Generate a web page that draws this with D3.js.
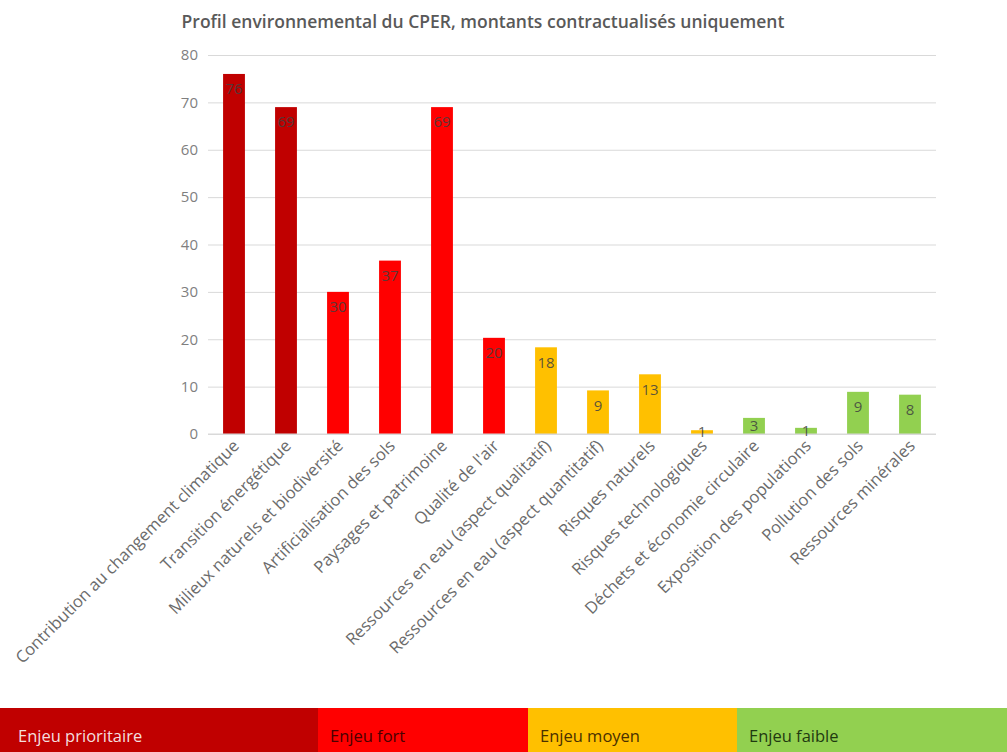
<!DOCTYPE html>
<html>
<head>
<meta charset="utf-8">
<script src="https://cdn.jsdelivr.net/npm/d3@7"></script>
<style>
  body { margin: 0; background: #fff; }
  text { font-family: "Open Sans", sans-serif; }
</style>
</head>
<body>
<script>
// data
const categories = [
  'Contribution au changement climatique',
  'Transition énergétique',
  'Milieux naturels et biodiversité',
  'Artificialisation des sols',
  'Paysages et patrimoine',
  "Qualité de l'air",
  'Ressources en eau (aspect qualitatif)',
  'Ressources en eau (aspect quantitatif)',
  'Risques naturels',
  'Risques technologiques',
  'Déchets et économie circulaire',
  'Exposition des populations',
  'Pollution des sols',
  'Ressources minérales'
];
const values = [76, 69, 30, 36.6, 69, 20.3, 18.3, 9.2, 12.6, 0.8, 3.4, 1.3, 8.9, 8.3];
const levels = ['prio', 'prio', 'fort', 'fort', 'fort', 'fort', 'moyen', 'moyen', 'moyen', 'moyen', 'faible', 'faible', 'faible', 'faible'];
const yTicks = [0, 10, 20, 30, 40, 50, 60, 70, 80];

const legendKeys = ['prio', 'fort', 'moyen', 'faible'];
const legendLabels = ['Enjeu prioritaire', 'Enjeu fort', 'Enjeu moyen', 'Enjeu faible'];
const legendWidths = [318, 210, 209, 270];

// config
const config = {
  width: 1007,
  height: 752,
  left: 208,
  right: 936,
  top: 55,
  bottom: 434,
  labelOffset: 15, // distance from bar top to label centre
};

const fill = d3.scaleOrdinal()
  .domain(legendKeys)
  .range(['#C00000', '#FF0000', '#FFC000', '#92D050']);

const legendText = d3.scaleOrdinal()
  .domain(legendKeys)
  .range(['#f4dede', '#4a0000', '#4a3000', '#1f3a10']);

let svg = d3.select('body')
  .append('svg')
  .attr('width', config.width)
  .attr('height', config.height);

let x = d3.scaleBand()
  .domain(categories)
  .range([config.left, config.right])
  .paddingInner(0.58)
  .paddingOuter(0.29);

let y = d3.scaleLinear()
  .domain([0, 80])
  .range([config.bottom, config.top]);

// title
svg.append('text')
  .attr('x', 483)
  .attr('y', 28)
  .attr('text-anchor', 'middle')
  .style('font-size', '17.5px')
  .style('font-weight', 600)
  .style('fill', '#595959')
  .text('Profil environnemental du CPER, montants contractualisés uniquement');

// grid + y axis
let yAxis = svg.append('g')
  .attr('transform', `translate(${config.left},0)`)
  .call(d3.axisLeft(y).tickValues(yTicks).tickSize(-(config.right - config.left)).tickPadding(10));
yAxis.select('.domain').remove();
yAxis.selectAll('line').attr('stroke', '#d9d9d9');
yAxis.selectAll('text')
  .style('font-size', '15px')
  .style('fill', '#7f7f7f')
  .style('font-family', '"Open Sans", sans-serif');

// bars
svg.selectAll('.bar')
  .data(values)
  .enter().append('rect')
  .attr('class', 'bar')
  .attr('x', (d, i) => x(categories[i]))
  .attr('width', x.bandwidth())
  .attr('y', (d) => y(d))
  .attr('height', (d) => y(0) - y(d))
  .attr('fill', (d, i) => fill(levels[i]));

// x axis line
svg.append('line')
  .attr('x1', config.left)
  .attr('x2', config.right)
  .attr('y1', y(0))
  .attr('y2', y(0))
  .attr('stroke', '#d9d9d9');

// value labels inside top of bars (short bars: centred on the bar)
svg.selectAll('.valueLabel')
  .data(values)
  .enter().append('text')
  .attr('class', 'valueLabel')
  .attr('x', (d, i) => x(categories[i]) + x.bandwidth() / 2)
  .attr('y', (d) => y(d) + Math.min(config.labelOffset, (y(0) - y(d)) / 2))
  .attr('dy', '0.35em')
  .attr('text-anchor', 'middle')
  .style('font-size', '15px')
  .style('fill', '#404040')
  .style('fill-opacity', 0.85)
  .text((d) => d3.format('.0f')(d));

// rotated category labels
svg.selectAll('.catLabel')
  .data(categories)
  .enter().append('text')
  .attr('class', 'catLabel')
  .attr('text-anchor', 'end')
  .attr('transform', (d) => `translate(${x(d) + x.bandwidth() / 2 + 6},${y(0) + 13}) rotate(-45)`)
  .style('font-size', '16.6px')
  .style('fill', '#6b6b6b')
  .text((d) => d);

// legend band
let offsets = d3.cumsum([0].concat(legendWidths));
let legend = svg.selectAll('.legendItem')
  .data(legendKeys)
  .enter().append('g')
  .attr('class', 'legendItem')
  .attr('transform', (d, i) => `translate(${offsets[i]},708)`);

legend.append('rect')
  .attr('width', (d, i) => legendWidths[i])
  .attr('height', 44)
  .attr('fill', (d) => fill(d));

legend.append('text')
  .attr('x', (d, i) => i === 0 ? 18 : 12)
  .attr('y', 34)
  .style('font-size', '16.5px')
  .style('fill', (d) => legendText(d))
  .text((d, i) => legendLabels[i]);
</script>
</body>
</html>
